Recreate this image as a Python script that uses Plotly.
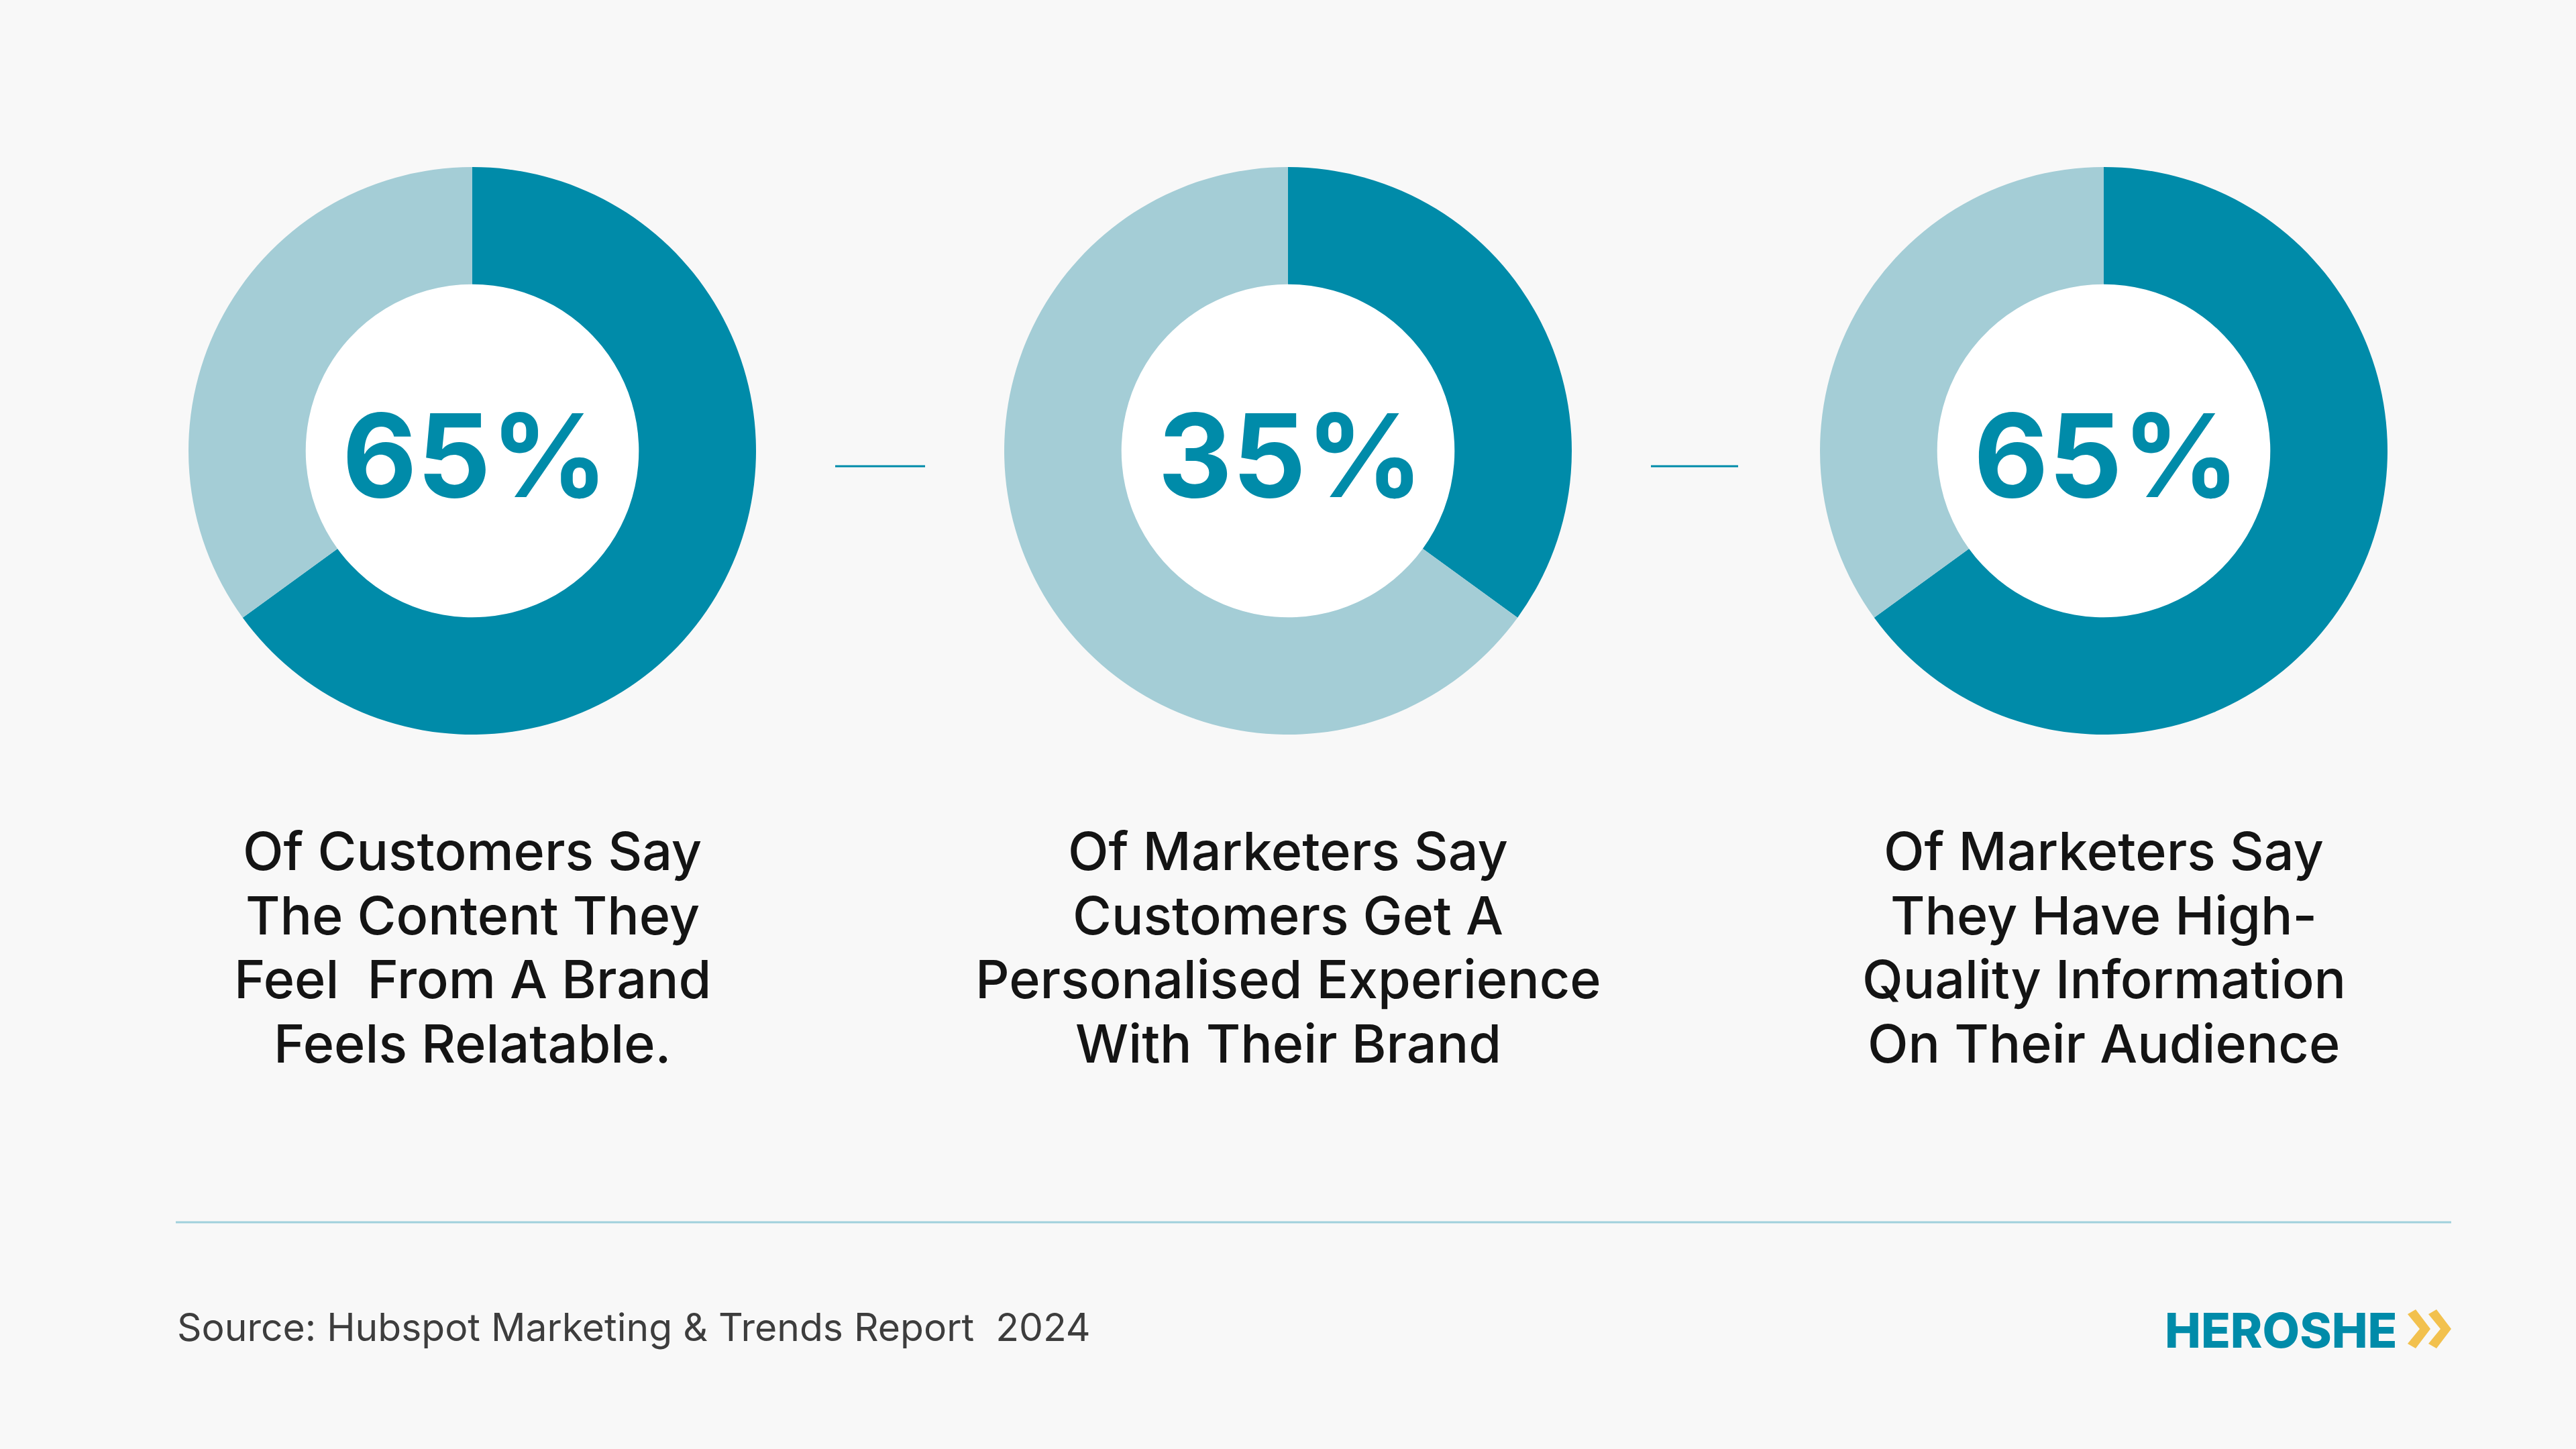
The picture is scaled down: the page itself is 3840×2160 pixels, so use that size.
import plotly.graph_objects as go

# ---- data ----
shares = [65, 35, 65]
center_labels = ["65%", "35%", "65%"]
captions = [
    ["Of Customers Say", "The Content They", "Feel  From A Brand", "Feels Relatable."],
    ["Of Marketers Say", "Customers Get A", "Personalised Experience", "With Their Brand"],
    ["Of Marketers Say", "They Have High-", "Quality Information", "On Their Audience"],
]
slice_names = ["Yes", "Rest"]
source_text = "Source: Hubspot Marketing & Trends Report  2024"
brand = "HEROSHE"

# ---- style ----
W, H = 3840, 2160
DARK = "#008BA9"
LIGHT = "#A4CDD6"
BG = "#F8F8F8"
FONT = "Inter"

centers_x = [704, 1920, 3136]
center_y = 672
R = 423
HOLE = 0.587
caption_y0 = 1268
caption_step = 95.5


def px(x):
    return x / W


def py(y):
    return (H - y) / H


fig = go.Figure()
shapes = []
annotations = []

for i, (v, lab, cap) in enumerate(zip(shares, center_labels, captions)):
    cx = centers_x[i]
    fig.add_trace(go.Pie(
        values=[v, 100 - v],
        labels=slice_names,
        hole=HOLE,
        sort=False,
        direction="clockwise",
        rotation=0,
        textinfo="none",
        hoverinfo="label+value",
        marker=dict(colors=[DARK, LIGHT], line=dict(width=0)),
        domain=dict(x=[px(cx - R), px(cx + R)], y=[py(center_y + R), py(center_y - R)]),
        showlegend=False,
    ))
    r_in = R * HOLE
    shapes.append(dict(type="circle", xref="paper", yref="paper", layer="below",
                       x0=px(cx - r_in), x1=px(cx + r_in),
                       y0=py(center_y + r_in), y1=py(center_y - r_in),
                       fillcolor="white", line=dict(width=0)))
    annotations.append(dict(text=lab, x=px(cx + 4), y=py(center_y + 6), xref="paper", yref="paper",
                            xanchor="center", yanchor="middle", showarrow=False,
                            font=dict(family=FONT, size=172, color=DARK, weight=700)))
    for k, line in enumerate(cap):
        annotations.append(dict(text=line, x=px(cx), y=py(caption_y0 + k * caption_step),
                                xref="paper", yref="paper",
                                xanchor="center", yanchor="middle", showarrow=False,
                                font=dict(family=FONT, size=79, color="#141414", weight=500)))

# connectors between donuts
for x0, x1 in [(1245, 1379), (2461, 2591)]:
    shapes.append(dict(type="line", xref="paper", yref="paper",
                       x0=px(x0), x1=px(x1), y0=py(695), y1=py(695),
                       line=dict(color=DARK, width=3)))

# divider rule
shapes.append(dict(type="line", xref="paper", yref="paper",
                   x0=px(262), x1=px(3654), y0=py(1822), y1=py(1822),
                   line=dict(color="#A0D0DC", width=3)))

# source
annotations.append(dict(text=source_text, x=px(262), y=py(1978), xref="paper", yref="paper",
                        xanchor="left", yanchor="middle", showarrow=False,
                        font=dict(family=FONT, size=57, color="#3D3D3D", weight=400)))

# brand
annotations.append(dict(text=brand, x=px(3575), y=py(1982), xref="paper", yref="paper",
                        xanchor="right", yanchor="middle", showarrow=False,
                        font=dict(family=FONT, size=72, color=DARK, weight=800)))

# chevrons of the logo
for off in [0, 31]:
    pts = [(3589 + off, 1959), (3601 + off, 1952), (3623 + off, 1981),
           (3601 + off, 2010), (3589 + off, 2003), (3607 + off, 1981)]
    path = "M " + " L ".join(f"{px(x):.6f},{py(y):.6f}" for x, y in pts) + " Z"
    shapes.append(dict(type="path", xref="paper", yref="paper", path=path,
                       fillcolor="#F2C14E", line=dict(width=0)))

fig.update_layout(
    width=W, height=H,
    margin=dict(l=0, r=0, t=0, b=0),
    paper_bgcolor=BG, plot_bgcolor=BG,
    shapes=shapes, annotations=annotations,
)

fig.write_html(
    "out.html",
    config={"displayModeBar": False},
    post_script="document.body.style.margin='0';document.body.style.background='#F8F8F8';"
                "document.body.style.overflow='hidden';",
)
